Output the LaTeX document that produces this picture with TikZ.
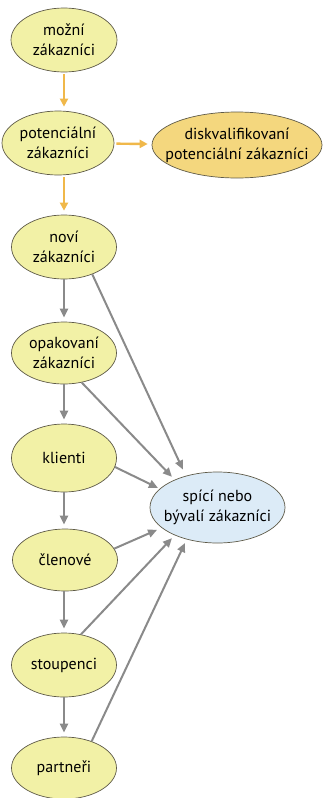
\documentclass[tikz,border=0pt]{standalone}
\usepackage{fontspec}
\setmainfont{PT Sans}
\usetikzlibrary{shapes.geometric,arrows.meta}
\definecolor{stagefill}{HTML}{F2F1A6}
\definecolor{lostfill}{HTML}{F4D77E}
\definecolor{dormantfill}{HTML}{DCEBF7}
\definecolor{rimcol}{HTML}{5E5A48}
\definecolor{orangeflow}{HTML}{F0B84A}
\definecolor{grayflow}{HTML}{8A8A8A}
\begin{document}
\begin{tikzpicture}[x=1pt,y=-1pt,
  stage/.style={ellipse, draw=rimcol, line width=0.7pt, fill=stagefill,
    minimum width=#1, minimum height=64pt, inner xsep=-20pt, inner ysep=-12pt,
    align=center, font=\fontsize{16}{20}\selectfont},
  stage/.default=105pt,
  oflow/.style={-{Triangle[length=8pt,width=8pt]}, line width=2.4pt, draw=orangeflow,
    shorten >=4pt, shorten <=2pt},
  gflow/.style={-{Triangle[length=9pt,width=8pt]}, line width=2pt, draw=grayflow,
    shorten >=4pt}]
\useasboundingbox (0,0) rectangle (323,798);

% main chain of customer stages
\node[stage=106pt] (mozni) at (64,40) {možní\\zákazníci};
\node[stage=112pt] (pot) at (58,143) {potenciální\\zákazníci};
\node[stage=170pt, fill=lostfill, minimum height=66pt] (disk) at (237,145)
  {diskvalifikovaní\\potenciální zákazníci};
\node[stage] (novi) at (64,247) {noví\\zákazníci};
\node[stage, minimum height=62pt] (opak) at (64,353) {opakovaní\\zákazníci};
\node[stage, minimum height=68pt] (klienti) at (64,458) {klienti};
\node[stage, minimum height=62pt] (clen) at (65,560) {členové};
\node[stage, minimum height=64pt] (stoup) at (64,665) {stoupenci};
\node[stage, minimum height=62pt] (partn) at (64,768) {partneři};
\node[stage=135pt, fill=dormantfill, minimum height=71pt] (spici) at (217.5,507.5)
  {spící nebo\\bývalí zákazníci};

% acquisition flow
\draw[oflow] (mozni) -- (pot.north -| mozni);
\draw[oflow] (pot.south -| mozni) -- (novi);
\draw[oflow] (pot) -- (disk);

% loyalty ladder
\draw[gflow] (novi) -- (opak);
\draw[gflow] (opak) -- (klienti);
\draw[gflow] (klienti) -- (clen.north -| klienti);
\draw[gflow] (clen.south -| stoup) -- (stoup);
\draw[gflow] (stoup) -- (partn);

% lapsing customers
\draw[gflow, shorten >=7pt] (novi.-44) -- (spici.135);
\draw[gflow, shorten >=4pt] (opak.-59) -- (spici.147);
\draw[gflow, shorten >=2pt] (klienti.-10) -- (spici.162);
\draw[gflow, shorten >=5pt] (clen.13) -- (spici.200);
\draw[gflow, shorten >=4pt, shorten <=0pt] (stoup.61) -- (spici.213);
\draw[gflow, shorten >=4pt] (partn.44) -- (spici.226);
\end{tikzpicture}
\end{document}
